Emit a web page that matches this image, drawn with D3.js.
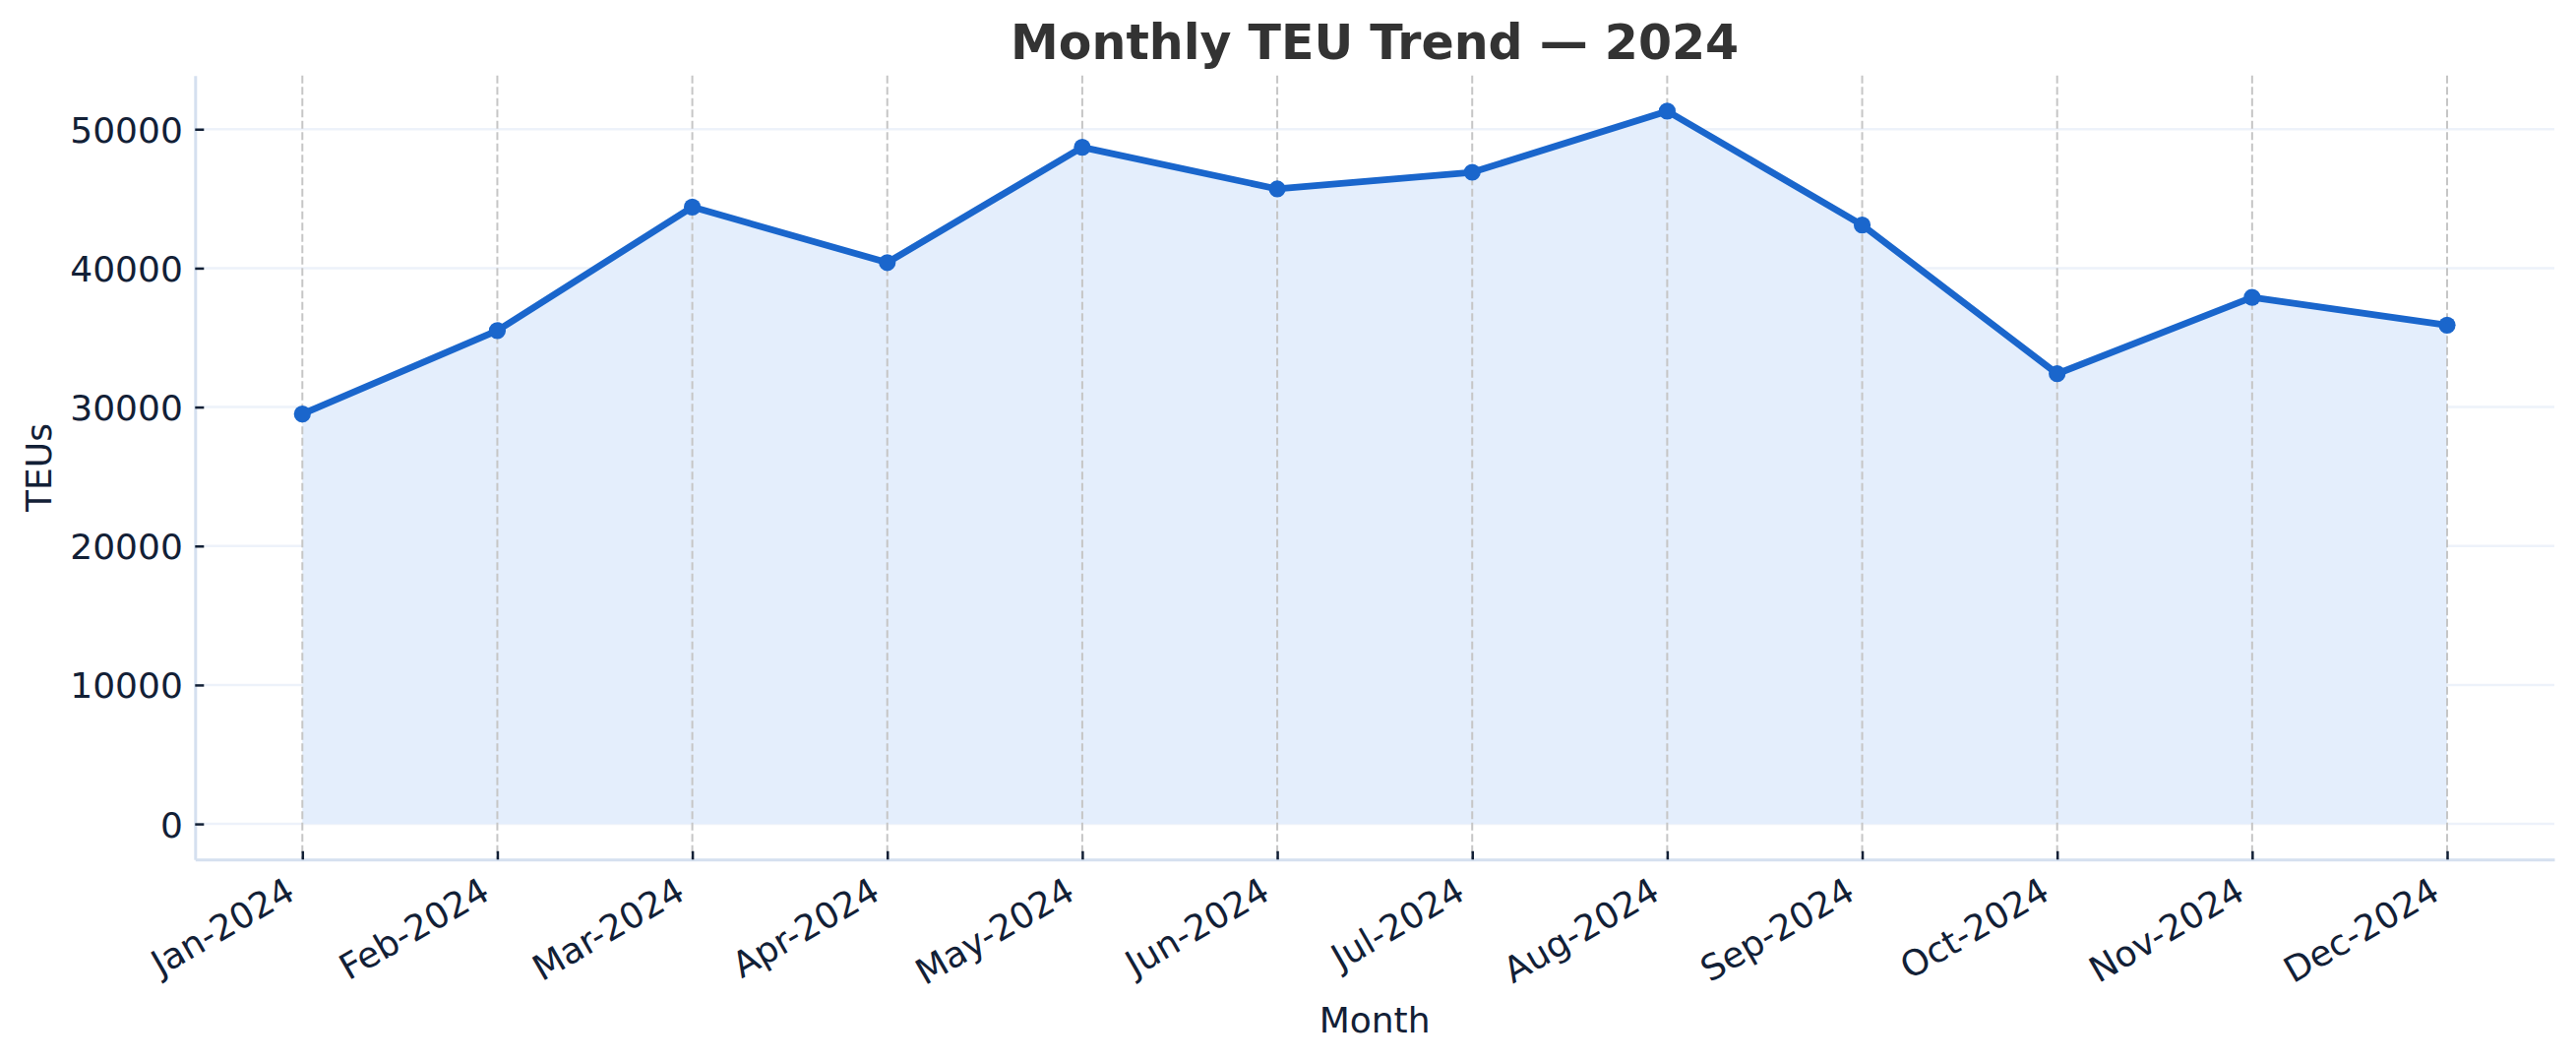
<!DOCTYPE html>
<html><head><meta charset="utf-8">
<script src="https://cdn.jsdelivr.net/npm/d3@7"></script>
<style>body{margin:0;background:#fff}</style>
</head><body><svg id="c" width="2618" height="1079"></svg>
<script>
const months = ["Jan-2024","Feb-2024","Mar-2024","Apr-2024","May-2024","Jun-2024","Jul-2024","Aug-2024","Sep-2024","Oct-2024","Nov-2024","Dec-2024"];
const teus = [29500, 35500, 44400, 40400, 48700, 45700, 46900, 51300, 43100, 32400, 37900, 35900];
const yTicks = [0, 10000, 20000, 30000, 40000, 50000];
const titleText = "Monthly TEU Trend — 2024";
const xLabel = "Month";
const yLabel = "TEUs";

const plotL = 198.3, plotR = 2596, plotT = 76.7, plotB = 873.3;
const font = "'DejaVu Sans', sans-serif";
const ink = "#122036";
const blue = "#1a66cc";

const svg = d3.select("#c");
const x = d3.scalePoint().domain(months).range([plotL, plotR]).padding(0.55);
const maxV = d3.max(teus);
const y = d3.scaleLinear().domain([-0.05 * maxV, 1.05 * maxV]).range([plotB, plotT]);
const data = months.map((m, i) => ({m, v: teus[i]}));

// horizontal grid
svg.append("g").selectAll("line").data(yTicks).join("line")
  .attr("x1", plotL).attr("x2", plotR)
  .attr("y1", d => y(d)).attr("y2", d => y(d))
  .attr("stroke", "#edf2fa").attr("stroke-width", 2.5);

// area fill
svg.append("path").datum(data)
  .attr("d", d3.area().x(d => x(d.m)).y0(y(0)).y1(d => y(d.v)))
  .attr("fill", "#e4eefc");

// vertical dashed grid
svg.append("g").selectAll("line").data(months).join("line")
  .attr("x1", d => x(d)).attr("x2", d => x(d))
  .attr("y1", plotT).attr("y2", plotB)
  .attr("stroke", "#c6c6c6").attr("stroke-width", 2).attr("stroke-dasharray", "8,3.5");

// axes
const yAxis = svg.append("g").attr("transform", `translate(${plotL},0)`)
  .call(d3.axisLeft(y).tickValues(yTicks).tickFormat(d3.format("d")).tickSizeInner(-9).tickSizeOuter(0).tickPadding(12.5));
const xAxis = svg.append("g").attr("transform", `translate(0,${plotB})`)
  .call(d3.axisBottom(x).tickSizeInner(-8.5).tickSizeOuter(0));

[yAxis, xAxis].forEach(g => {
  g.select(".domain").attr("stroke", "#d5e0ef").attr("stroke-width", 3);
  g.selectAll(".tick line").attr("stroke", ink).attr("stroke-width", 2.5);
  g.selectAll(".tick text").attr("fill", ink).attr("font-family", font).attr("font-size", 36);
});
yAxis.selectAll(".tick text").attr("dy", "0.36em");
xAxis.selectAll(".tick text")
  .attr("y", null).attr("dy", null)
  .attr("text-anchor", "end")
  .attr("transform", "translate(-6,39) rotate(-30)");

// line
svg.append("path").datum(data)
  .attr("d", d3.line().x(d => x(d.m)).y(d => y(d.v)))
  .attr("fill", "none").attr("stroke", blue).attr("stroke-width", 6.8)
  .attr("stroke-linejoin", "round");

// markers
svg.append("g").selectAll("circle").data(data).join("circle")
  .attr("cx", d => x(d.m)).attr("cy", d => y(d.v)).attr("r", 8.6)
  .attr("fill", blue);

// title
svg.append("text").attr("x", (plotL + plotR) / 2).attr("y", 60)
  .attr("text-anchor", "middle").attr("font-family", font).attr("font-weight", "bold")
  .attr("font-size", 49).attr("fill", "#333333").text(titleText);

// axis labels
svg.append("text").attr("x", (plotL + plotR) / 2).attr("y", 1049)
  .attr("text-anchor", "middle").attr("font-family", font)
  .attr("font-size", 36).attr("fill", ink).text(xLabel);
svg.append("text").attr("transform", `translate(51.5,${(plotT + plotB) / 2}) rotate(-90)`)
  .attr("text-anchor", "middle").attr("font-family", font)
  .attr("font-size", 36).attr("fill", ink).text(yLabel);
</script>
</body></html>
